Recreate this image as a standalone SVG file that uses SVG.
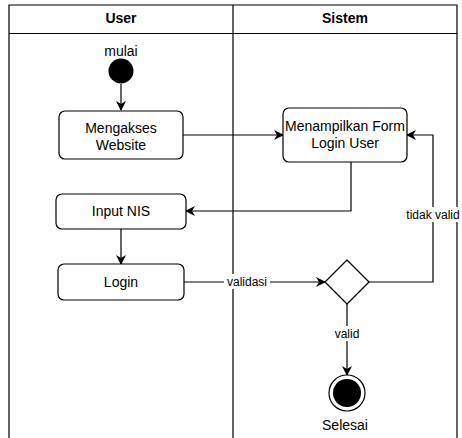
<svg xmlns="http://www.w3.org/2000/svg" width="462" height="438" viewBox="0 0 462 438">
  <style>
    text { font-family: "Liberation Sans", Arial, sans-serif; font-size: 14px; fill: #000; }
    .hd { font-weight: bold; }
    .lbl { font-size: 12px; }
    .box { fill: #fff; stroke: #000; stroke-width: 1.2; }
    .edge { fill: none; stroke: #000; stroke-width: 1.2; }
    .lane { fill: none; stroke: #000; stroke-width: 1.2; }
    .bg { fill: #fff; }
  </style>
  <defs>
    <marker id="arrow" viewBox="0 0 10 10" refX="9" refY="5" markerWidth="10" markerHeight="10" markerUnits="userSpaceOnUse" orient="auto">
      <path d="M0,0 L10,5 L0,10 L3,5 Z" fill="#000"/>
    </marker>
  </defs>

  <rect width="462" height="438" fill="#fff"/>

  <!-- swimlanes -->
  <g id="lanes">
    <path class="lane" d="M9,440 V5 H457 V440 M9,33.5 H457 M233,5 V440"/>
    <text class="hd" x="121" y="23" text-anchor="middle">User</text>
    <text class="hd" x="345" y="23" text-anchor="middle">Sistem</text>
  </g>

  <!-- connectors -->
  <g id="connectors">
    <path class="edge" d="M121,84 V110" marker-end="url(#arrow)"/>
    <path class="edge" d="M183,135 H283" marker-end="url(#arrow)"/>
    <path class="edge" d="M351,162 V211 H186" marker-end="url(#arrow)"/>
    <path class="edge" d="M121,229 V264" marker-end="url(#arrow)"/>
    <path class="edge" d="M184,282 H325" marker-end="url(#arrow)"/>
    <path class="edge" d="M369,282 H433 V135 H407" marker-end="url(#arrow)"/>
    <path class="edge" d="M347,304 V375" marker-end="url(#arrow)"/>
    <!-- edge labels -->
    <rect class="bg" x="224" y="274" width="46" height="15"/>
    <text class="lbl" x="247" y="286" text-anchor="middle">validasi</text>
    <rect class="bg" x="404" y="207" width="58" height="15"/>
    <text class="lbl" x="433" y="219" text-anchor="middle">tidak valid</text>
    <rect class="bg" x="334" y="326" width="26" height="15"/>
    <text class="lbl" x="347" y="338" text-anchor="middle">valid</text>
  </g>

  <!-- start -->
  <g id="start">
    <text x="121" y="56" text-anchor="middle">mulai</text>
    <circle cx="121" cy="71" r="12.5" fill="#000"/>
  </g>

  <g id="mengakses">
    <rect class="box" x="59" y="111" width="124" height="48" rx="6"/>
    <text x="121" y="133" text-anchor="middle">Mengakses</text>
    <text x="121" y="150" text-anchor="middle">Website</text>
  </g>

  <g id="form">
    <rect class="box" x="283" y="108" width="124" height="54" rx="6"/>
    <text x="345" y="131" text-anchor="middle">Menampilkan Form</text>
    <text x="345" y="148" text-anchor="middle">Login User</text>
  </g>

  <g id="input">
    <rect class="box" x="56" y="194" width="130" height="35" rx="6"/>
    <text x="121" y="216" text-anchor="middle">Input NIS</text>
  </g>

  <g id="login">
    <rect class="box" x="58" y="264" width="126" height="36" rx="6"/>
    <text x="121" y="287" text-anchor="middle">Login</text>
  </g>

  <g id="decision">
    <path class="box" d="M347,260 L369,282 L347,304 L325,282 Z" stroke-linejoin="round"/>
  </g>

  <g id="end">
    <circle cx="347" cy="393" r="18" fill="#fff" stroke="#000" stroke-width="1.2"/>
    <circle cx="347" cy="393" r="14" fill="#000"/>
    <text x="345" y="430" text-anchor="middle">Selesai</text>
  </g>
</svg>
